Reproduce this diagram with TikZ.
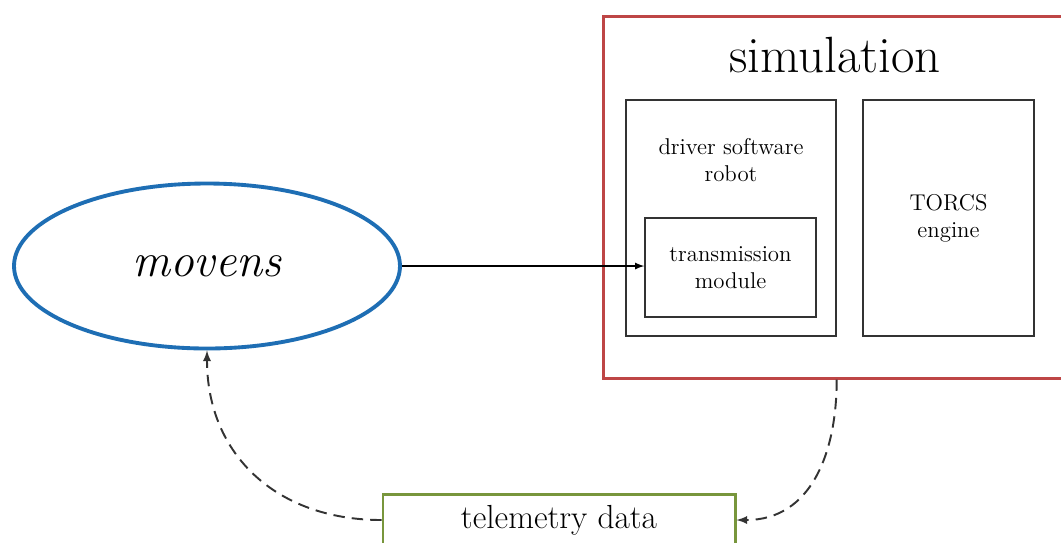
\documentclass[tikz,border=0pt]{standalone}
\usepackage{fontspec}
\usepackage{tikz}
\usetikzlibrary{shapes.geometric}

\definecolor{movensblue}{RGB}{30,110,180}
\definecolor{simred}{RGB}{190,70,70}
\definecolor{telegreen}{RGB}{120,150,60}

\tikzset{
	box/.style={draw=black!80, line width=0.8pt, inner sep=0pt},
	boxtext/.style={align=center, font=\fontsize{13}{15.5}\selectfont},
	flow/.style={->, >=latex, line width=0.8pt},
	feedback/.style={->, >=latex, line width=1.1pt, dash pattern=on 6.5pt off 4pt, black!80}
}

\begin{document}
\begin{tikzpicture} % movens loop
		\begin{scope}
			\clip (0,0) rectangle (21.22,-10.84);
			\fill[white] (0,0) rectangle (21.22,-10.84);

			\node[ellipse, draw=movensblue, line width=2.2pt, minimum width=7.72cm, minimum height=3.3cm, inner sep=0pt, font=\fontsize{27}{30}\selectfont\itshape] (movens) at (4.14,-5.32) {movens};

			\node[box, draw=simred, line width=1.7pt, minimum width=9.6cm, minimum height=7.24cm] (sim) at (16.86,-3.94) {};
			\node[font=\fontsize{29}{32}\selectfont] (simtext) at (16.7,-1.1) {simulation};

			\node[box, minimum width=4.2cm, minimum height=4.72cm] (driver) at (14.62,-4.36) {};
			\node[boxtext] (drivertext) at (14.62,-3.2) {driver software\\robot};
			\node[box, boxtext, minimum width=3.42cm, minimum height=1.98cm] (trans) at (14.61,-5.35) {transmission\\module};
			\node[box, boxtext, minimum width=3.42cm, minimum height=4.72cm] (torcs) at (18.97,-4.36) {TORCS\\engine};

			\node[box, draw=telegreen, line width=1.7pt, minimum width=7.04cm, minimum height=1.6cm, anchor=north] (telem) at (11.18,-9.86) {};
			\node[font=\fontsize{19}{22}\selectfont] (telemtext) at (11.18,-10.4) {telemetry data};

			\draw[flow] (movens.east) -- (movens.east -| trans.west);
			\draw[feedback] (sim.south -| driver.east) to[out=-90, in=0, looseness=1.1] (telemtext -| telem.east);
			\draw[feedback] (telemtext -| telem.west) to[out=180, in=-90, looseness=1.1] (movens.south);
		\end{scope}
		\end{tikzpicture}
\end{document}
